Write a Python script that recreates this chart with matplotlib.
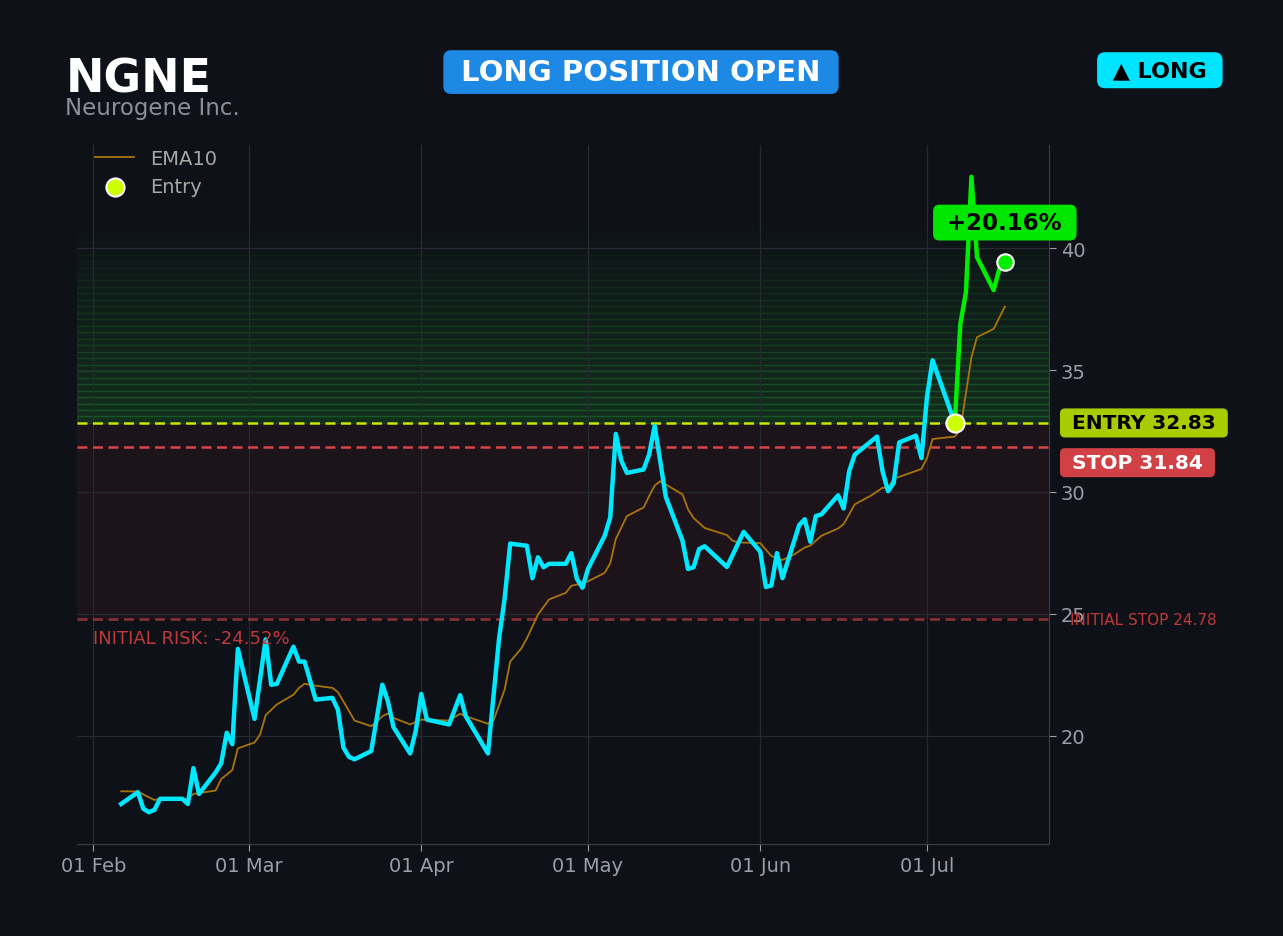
import matplotlib
matplotlib.use("Agg")
import matplotlib.pyplot as plt
import matplotlib.dates as mdates
import pandas as pd

# ---------------------------
# DATA
# ---------------------------
ticker = "NGNE"
company = "Neurogene Inc."

price_dates = [
    "2025-02-06", "2025-02-09", "2025-02-10", "2025-02-11", "2025-02-12", "2025-02-13",
    "2025-02-17", "2025-02-18", "2025-02-19", "2025-02-20", "2025-02-23", "2025-02-24",
    "2025-02-25", "2025-02-26", "2025-02-27",
    "2025-03-02", "2025-03-04", "2025-03-05", "2025-03-06", "2025-03-09", "2025-03-10",
    "2025-03-11", "2025-03-13", "2025-03-16", "2025-03-17", "2025-03-18", "2025-03-19",
    "2025-03-20", "2025-03-23", "2025-03-25", "2025-03-26", "2025-03-27", "2025-03-30",
    "2025-03-31",
    "2025-04-01", "2025-04-02", "2025-04-06", "2025-04-08", "2025-04-09", "2025-04-13",
    "2025-04-15", "2025-04-16", "2025-04-17", "2025-04-20", "2025-04-21", "2025-04-22",
    "2025-04-23", "2025-04-24", "2025-04-27", "2025-04-28", "2025-04-29", "2025-04-30",
    "2025-05-01", "2025-05-04", "2025-05-05", "2025-05-06", "2025-05-07", "2025-05-08",
    "2025-05-11", "2025-05-12", "2025-05-13", "2025-05-15", "2025-05-18", "2025-05-19",
    "2025-05-20", "2025-05-21", "2025-05-22", "2025-05-26", "2025-05-29",
    "2025-06-01", "2025-06-02", "2025-06-03", "2025-06-04", "2025-06-05", "2025-06-08",
    "2025-06-09", "2025-06-10", "2025-06-11", "2025-06-12", "2025-06-15", "2025-06-16",
    "2025-06-17", "2025-06-18", "2025-06-22", "2025-06-23", "2025-06-24", "2025-06-25",
    "2025-06-26", "2025-06-29", "2025-06-30",
    "2025-07-01", "2025-07-02", "2025-07-06", "2025-07-07", "2025-07-08", "2025-07-09",
    "2025-07-10", "2025-07-13", "2025-07-14", "2025-07-15",
]
price_close = [
    17.20, 17.68, 17.00, 16.86, 16.96, 17.41, 17.41, 17.20, 18.67, 17.61, 18.49, 18.87,
    20.12, 19.65, 23.56,
    20.69, 23.95, 22.09, 22.12, 23.65, 23.04, 23.04, 21.48, 21.55, 21.07, 19.51, 19.13,
    19.03, 19.37, 22.09, 21.41, 20.35, 19.27, 20.19,
    21.71, 20.66, 20.46, 21.66, 20.80, 19.27, 23.99, 25.62, 27.88, 27.79, 26.46, 27.32,
    26.91, 27.05, 27.05, 27.49, 26.44, 26.07,
    26.84, 28.20, 28.95, 32.38, 31.28, 30.78, 30.92, 31.53, 32.71, 29.80, 28.00, 26.84,
    26.91, 27.66, 27.77, 26.92, 28.36,
    27.55, 26.10, 26.16, 27.49, 26.46, 28.64, 28.88, 27.96, 29.01, 29.08, 29.86, 29.32,
    30.85, 31.53, 32.27, 30.85, 30.03, 30.37, 32.03, 32.31, 31.39,
    33.90, 35.40, 32.83, 36.89, 38.18, 42.93, 39.63, 38.28, 39.13, 39.45,
]

ema_dates = [
    "2025-02-06", "2025-02-09", "2025-02-11", "2025-02-12", "2025-02-13", "2025-02-18",
    "2025-02-19", "2025-02-23", "2025-02-24", "2025-02-26", "2025-02-27",
    "2025-03-02", "2025-03-03", "2025-03-04", "2025-03-06", "2025-03-09", "2025-03-10",
    "2025-03-11", "2025-03-13", "2025-03-16", "2025-03-17", "2025-03-20", "2025-03-23",
    "2025-03-24", "2025-03-25", "2025-03-26", "2025-03-27", "2025-03-30",
    "2025-04-01", "2025-04-06", "2025-04-08", "2025-04-09", "2025-04-13", "2025-04-14",
    "2025-04-16", "2025-04-17", "2025-04-19", "2025-04-20", "2025-04-22", "2025-04-24",
    "2025-04-27", "2025-04-28", "2025-04-30",
    "2025-05-01", "2025-05-04", "2025-05-05", "2025-05-06", "2025-05-08", "2025-05-11",
    "2025-05-12", "2025-05-13", "2025-05-14", "2025-05-18", "2025-05-19", "2025-05-20",
    "2025-05-22", "2025-05-26", "2025-05-27", "2025-05-28",
    "2025-06-01", "2025-06-03", "2025-06-05", "2025-06-07", "2025-06-09", "2025-06-10",
    "2025-06-12", "2025-06-15", "2025-06-16", "2025-06-18", "2025-06-21", "2025-06-23",
    "2025-06-24", "2025-06-25", "2025-06-30",
    "2025-07-01", "2025-07-02", "2025-07-06", "2025-07-07", "2025-07-08", "2025-07-09",
    "2025-07-10", "2025-07-13", "2025-07-15",
]
ema_vals = [
    17.72, 17.71, 17.47, 17.36, 17.41, 17.41, 17.61, 17.75, 18.22, 18.59, 19.48,
    19.72, 20.05, 20.84, 21.28, 21.68, 21.96, 22.13, 22.05, 21.96, 21.79, 20.62, 20.39,
    20.57, 20.80, 20.91, 20.73, 20.46,
    20.66, 20.62, 20.90, 20.80, 20.49, 20.62, 21.89, 23.04, 23.58, 23.99, 24.97, 25.59,
    25.86, 26.15, 26.25,
    26.33, 26.68, 27.07, 28.07, 29.01, 29.36, 29.83, 30.26, 30.44, 29.90, 29.29, 28.93,
    28.52, 28.23, 28.00, 27.93,
    27.90, 27.37, 27.21, 27.42, 27.72, 27.80, 28.20, 28.50, 28.68, 29.49, 29.86, 30.17,
    30.17, 30.54, 30.94,
    31.39, 32.17, 32.27, 32.55, 34.04, 35.53, 36.35, 36.69, 37.60,
]

entry_date = "2025-07-06"
entry_price = 32.83
stop_price = 31.84
initial_stop = 24.78
initial_risk_pct = -24.52
gain_pct = 20.16
target_zone_top = 40.8

# ---------------------------
# COLOURS
# ---------------------------
BG = "#0e1117"
CYAN = "#00e8ff"
GREEN = "#00ee00"
ENTRY_C = "#c8e600"
STOP_C = "#d94444"
INIT_C = "#a33a3a"
EMA_C = "#a8740e"
GRAY = "#9a9ea6"

px = pd.Series(price_close, index=pd.to_datetime(price_dates))
ema = pd.Series(ema_vals, index=pd.to_datetime(ema_dates))
t_entry = pd.Timestamp(entry_date)
before = px[px.index <= t_entry]
after = px[px.index >= t_entry]

fig = plt.figure(figsize=(12.83, 9.37), dpi=100, facecolor=BG)
ax = fig.add_axes([0.0600, 0.0982, 0.7576, 0.7460], facecolor=BG)

# risk zone + gradient profit zone
ax.axhspan(initial_stop, entry_price, color="#e03040", alpha=0.075, lw=0, zorder=0)
n_bands = 30
step = (target_zone_top - entry_price) / n_bands
for i in range(n_bands):
    lo = entry_price + i * step
    a = 0.15 * (1 - i / n_bands) + 0.005
    ax.axhspan(lo, lo + step, color="#2ecc40", alpha=a, zorder=0)

ax.axhline(entry_price, color=ENTRY_C, lw=1.8, ls=(0, (4, 2.2)), zorder=2)
ax.axhline(stop_price, color=STOP_C, lw=1.8, ls=(0, (4, 2.2)), zorder=2)
ax.axhline(initial_stop, color=INIT_C, lw=1.8, ls=(0, (4, 2.2)), alpha=0.85, zorder=2)

ax.plot(ema.index, ema.values, color=EMA_C, lw=1.3, label="EMA10", zorder=3)
ax.plot(before.index, before.values, color=CYAN, lw=3.2, zorder=4)
ax.plot(after.index, after.values, color=GREEN, lw=3.2, zorder=4)

ax.scatter([t_entry], [entry_price], s=170, color="#ccff00", edgecolor="white",
           linewidth=1.5, zorder=6, label="Entry")
ax.scatter([after.index[-1]], [after.values[-1]], s=140, color=GREEN,
           edgecolor="white", linewidth=1.5, zorder=6)

# axes styling
ax.grid(True, color="#262a31", lw=0.9)
ax.set_axisbelow(True)
for side in ["left", "top"]:
    ax.spines[side].set_visible(False)
for side in ["right", "bottom"]:
    ax.spines[side].set_color("#3a3e45")
ax.yaxis.tick_right()
ax.tick_params(colors=GRAY, labelsize=14, length=5)
ax.xaxis.set_major_locator(mdates.MonthLocator())
ax.xaxis.set_major_formatter(mdates.DateFormatter("%d %b"))

leg = ax.legend(loc="upper left", frameon=False, fontsize=14, labelcolor="#a8a8a8",
                handlelength=2.0, borderaxespad=0.4, bbox_to_anchor=(0.003, 1.017))

# text annotations
ax.text(pd.Timestamp("2025-02-01"), 24.0, f"INITIAL RISK: {initial_risk_pct:.2f}%",
        color="#c0393b", fontsize=13, va="center", ha="left", zorder=5)
ax.annotate(f"INITIAL STOP {initial_stop:.2f}", xy=(1.022, initial_stop),
            xycoords=("axes fraction", "data"), color="#c0393b", fontsize=11,
            va="center", ha="left", annotation_clip=False)
ax.annotate(f" ENTRY {entry_price:.2f} ", xy=(1.0165, entry_price),
            xycoords=("axes fraction", "data"), color="black", fontsize=14.5,
            fontweight="bold", va="center", ha="left", annotation_clip=False,
            bbox=dict(boxstyle="round,pad=0.25", fc="#a8cc00", ec="none"))
ax.annotate(f" STOP {stop_price:.2f} ", xy=(1.0165, 31.2),
            xycoords=("axes fraction", "data"), color="white", fontsize=14.5,
            fontweight="bold", va="center", ha="left", annotation_clip=False,
            bbox=dict(boxstyle="round,pad=0.25", fc="#d04045", ec="none"))
ax.text(after.index[-1], 41.05, f" +{gain_pct:.2f}% ", color="black", fontsize=16.5,
        fontweight="bold", ha="center", va="center", zorder=7,
        bbox=dict(boxstyle="round,pad=0.28", fc="#00e600", ec="none"))

fig.text(0.0515, 0.9146, ticker, color="white", fontsize=33, fontweight="bold",
         ha="left", va="center")
fig.text(0.0507, 0.8837, company, color="#8b8f97", fontsize=16.5, ha="left", va="center")
fig.text(0.4996, 0.922, " LONG POSITION OPEN ", color="white", fontsize=21,
         fontweight="bold", ha="center", va="center",
         bbox=dict(boxstyle="round,pad=0.27", fc="#1e88e5", ec="none"))
fig.text(0.904, 0.924, " \u25B2 LONG ", color="black", fontsize=16, fontweight="bold",
         ha="center", va="center",
         bbox=dict(boxstyle="round,pad=0.36", fc="#00e5ff", ec="none"))

fig.savefig("out.png", dpi=100, facecolor=BG)
